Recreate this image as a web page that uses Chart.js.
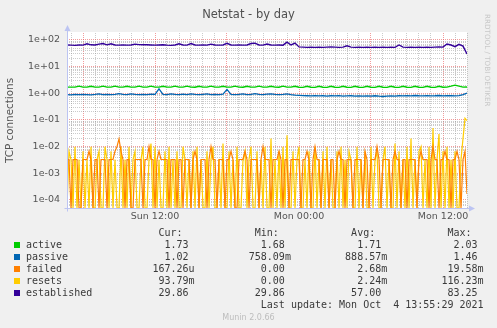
<!DOCTYPE html>
<html>
<head>
<meta charset="utf-8">
<script src="https://cdn.jsdelivr.net/npm/chart.js@4/dist/chart.umd.min.js"></script>
<style>
  html, body { margin: 0; padding: 0; background: #f0f0f0; }
  body { width: 497px; height: 328px; position: relative; overflow: hidden; font-family: "DejaVu Sans", sans-serif; }
  #chart { position: absolute; left: 0; top: 0; }
  .title { position: absolute; left: 0; width: 497px; top: 7px; text-align: center; font-size: 11.5px; color: #505050; }
  .side { position: absolute; left: 483px; top: 14px; writing-mode: vertical-rl; font-size: 7.2px; color: #c8c8c8; }
  #legend { position: absolute; left: 26px; top: 227px; margin: 0; font: 10px/12px "DejaVu Sans Mono", monospace; color: #3a3a3a; }
  .swatch { position: absolute; left: 14px; width: 6px; height: 6px; }
  .munin { position: absolute; left: 0; width: 497px; top: 313px; text-align: center; font-size: 8px; color: #bdbdbd; }
</style>
</head>
<body>
<canvas id="chart" width="497" height="328"></canvas>
<div class="title">Netstat - by day</div>
<div class="side">RRDTOOL / TOBI OETIKER</div>
<pre id="legend"></pre>
<div id="swatches"></div>
<div class="munin">Munin 2.0.66</div>
<script>
"use strict";

// ---- Data (hours after Sun 00:00) ------------------------------------------

const T0 = 4 + 40 / 60;          // left edge of the graph, Sun 04:40
const T1 = 38;                   // right edge, Mon 14:00
const SLOW_STEP = 20 / 60;       // active / passive / established samples
const FAST_STEP = 10 / 60;       // failed / resets samples
const Y_MIN = 5e-5;
const Y_MAX = 183;

const xTickHours = [12, 24, 36];
const xTickLabels = ["Sun 12:00", "Mon 00:00", "Mon 12:00"];

const yTickValues = [1e-4, 1e-3, 1e-2, 1e-1, 1, 10, 100];
const yTickLabels = ["1e-04", "1e-03", "1e-02", "1e-01", "1e+00", "1e+01", "1e+02"];
const yDecades = [1e-5, 1e-4, 1e-3, 1e-2, 1e-1, 1, 10, 100];
const yMinorSteps = [1, 2, 3, 4, 5, 6, 7, 8, 9];

const active = [
  1.70, 1.70, 1.71, 1.85, 1.70, 1.70, 1.84, 1.70, 1.71, 1.85,
  1.70, 1.70, 1.85, 1.70, 1.70, 1.84, 1.70, 1.71, 1.85, 1.70,
  1.70, 1.85, 1.70, 1.70, 1.84, 1.70, 1.71, 1.85, 1.70, 1.70,
  1.85, 1.70, 1.69, 1.84, 1.70, 1.70, 1.85, 1.70, 1.70, 1.84,
  1.70, 1.70, 1.85, 1.70, 1.69, 1.84, 1.70, 1.70, 1.85, 1.70,
  1.70, 1.84, 1.70, 1.69, 1.85, 1.70, 1.70, 1.84, 1.69, 1.68,
  1.84, 1.69, 1.68, 1.84, 1.69, 1.68, 1.84, 1.69, 1.68, 1.84,
  1.69, 1.68, 1.84, 1.69, 1.68, 1.84, 1.69, 1.68, 1.84, 1.69,
  1.68, 1.84, 1.69, 1.68, 1.84, 1.69, 1.68, 1.84, 1.69, 1.68,
  1.84, 1.69, 1.68, 1.84, 1.69, 1.70, 1.85, 2.03, 1.85, 1.72,
  1.73,
];

const passive = [
  0.90, 0.88, 0.91, 0.89, 0.92, 0.90, 0.88, 0.91, 0.95, 0.90,
  0.92, 0.89, 0.91, 0.97, 0.92, 0.90, 0.95, 0.91, 0.89, 0.92,
  0.90, 0.93, 0.91, 1.46, 0.92, 0.90, 0.95, 0.91, 0.89, 0.93,
  0.90, 0.96, 0.91, 0.89, 0.92, 0.95, 0.90, 0.91, 0.89, 0.93,
  1.40, 0.92, 0.90, 0.91, 0.95, 0.90, 0.92, 0.98, 0.91, 0.89,
  0.93, 0.96, 0.91, 0.90, 0.92, 0.95, 0.90, 0.86, 0.84, 0.82,
  0.81, 0.80, 0.82, 0.80, 0.81, 0.79, 0.81, 0.80, 0.82, 0.79,
  0.80, 0.81, 0.79, 0.80, 0.78, 0.80, 0.79, 0.81, 0.78, 0.76,
  0.78, 0.80, 0.79, 0.81, 0.80, 0.82, 0.80, 0.83, 0.81, 0.80,
  0.82, 0.80, 0.81, 0.83, 0.80, 0.82, 0.81, 0.80, 0.82, 0.90,
  1.02,
];

const established = [
  65, 64, 63, 65, 64, 72, 66, 65, 70, 74,
  66, 72, 65, 64, 65, 64, 65, 70, 67, 66,
  66, 65, 64, 65, 66, 64, 63, 65, 72, 65,
  64, 74, 65, 64, 65, 64, 70, 65, 64, 65,
  75, 65, 64, 65, 64, 65, 74, 76, 65, 64,
  71, 65, 64, 65, 64, 83.25, 65, 77, 55, 54,
  53, 54, 53, 54, 53, 54, 55, 54, 53, 54,
  61, 54, 53, 54, 53, 54, 53, 54, 53, 54,
  53, 54, 53, 65, 54, 53, 54, 53, 54, 53,
  54, 53, 54, 55, 54, 71, 65, 56, 69, 59,
  29.86,
];

const failed = [
  .0033, .0033, 0, .0033, .0033, .0033, 0, 0, .0033, .0033,
  .0033, .0067, .0033, 0, .0033, .0033, 0, .0033, .0033, .0033,
  0, .0033, .0033, .0033, .0067, .01, .0196, .0067, .0033, 0,
  .0033, .0033, 0, 0, .0033, .0033, .0033, .0033, 0, .0033,
  .0033, .01, .0033, .0033, 0, .0033, .0067, .0033, .0033, .0033,
  .0033, 0, .0033, .0033, .0033, 0, .0033, .0033, 0, .0033,
  .0033, .0033, 0, .0033, .0067, .0033, 0, .0033, .0033, .0033,
  0, .0033, .01, .0033, .0033, 0, .0033, .0033, .0033, 0,
  .0033, .0033, .0067, .0033, 0, 0, .0033, .0033, .0033, .0067,
  .0033, 0, .0033, .0033, .0033, .0033, 0, .0033, .01, .0033,
  .0033, .0033, 0, .0033, .0033, .0033, .0067, .0033, 0, .0033,
  .0033, 0, .0033, .0033, .0033, .0033, .0033, 0, .0033, .0033,
  .0067, .0033, 0, .0033, .01, .0033, .0033, 0, .0033, .0033,
  .0033, 0, .0033, .0033, 0, .0033, .0067, .0033, .0033, 0,
  .0033, .0033, .0033, 0, .0033, .0033, .0033, .0033, 0, .0067,
  .0033, 0, .0033, .0033, .0033, .01, .0033, 0, .0033, .0033,
  .0033, .0033, 0, .0033, .0067, .0033, .0033, 0, .0033, .0033,
  0, .0033, .0033, .0033, .0033, 0, .0033, .0067, .0033, .0033,
  .0033, 0, .0033, .01, .0033, .0033, 0, .0033, .0033, .0067,
  .0033, .0033, 0, .0033, .0033, .0067, .0033, 0, .0033, .0067,
  .000167,
];

const resets = [
  0, .0067, .0033, 0, .01, 0, .0033, 0, .0067, 0,
  .0033, 0, .01, 0, 0, .0033, .0067, 0, 0, .01,
  .0033, 0, .0067, 0, .0033, 0, 0, .01, 0, .0033,
  0, .01, 0, .0033, .0067, 0, 0, .0033, .01, 0,
  0, .0033, .013, 0, .01, 0, .0033, 0, 0, .0067,
  0, .01, 0, .0033, 0, .0067, 0, 0, .01, .0033,
  0, .0033, 0, .0067, 0, .01, 0, .0033, 0, 0,
  .0067, 0, .0033, .01, 0, 0, .0033, 0, .013, 0,
  0, .0067, 0, .0033, 0, .01, 0, 0, .0033, .0067,
  0, .0033, .01, 0, 0, .0067, 0, .0033, 0, .01,
  0, 0, .02, 0, .0033, 0, .0067, 0, .01, 0,
  .027, 0, 0, .0067, 0, .0033, .01, 0, 0, .0033,
  0, .0067, 0, 0, .01, 0, .0033, 0, .0067, 0,
  .01, 0, .0033, 0, 0, .0067, 0, .01, 0, .0033,
  0, .0067, .0033, 0, 0, .01, 0, .0033, 0, .0067,
  0, 0, .01, 0, .0033, .0067, 0, 0, .0033, .01,
  0, .0033, 0, 0, .013, 0, .0067, 0, .0033, 0,
  .01, 0, .02, 0, .0033, 0, .0067, .01, 0, .0033,
  0, .01, 0, .05, 0, .0033, .03, 0, .0067, 0,
  .01, 0, .0033, 0, .0067, 0, 0, .0033, .02, .1162,
  .0938,
];

// Legend table, as munin prints it
const seriesNames = ["active", "passive", "failed", "resets", "established"];
const curText = ["1.73 ", "1.02 ", "167.26u", "93.79m", "29.86 "];
const minText = ["1.68 ", "758.09m", "0.00 ", "0.00 ", "29.86 "];
const avgText = ["1.71 ", "888.57m", "2.68m", "2.24m", "57.00 "];
const maxText = ["2.03 ", "1.46 ", "19.58m", "116.23m", "83.25 "];
const lastUpdate = "Last update: Mon Oct  4 13:55:29 2021";

// ---- Styles ----------------------------------------------------------------

const COLOURS = ["#00cc00", "#0066b3", "#ff8000", "#ffcc00", "#330099"];
const GRID = "rgba(140,140,140,0.45)";
const MGRID = "rgba(235,90,90,0.6)";
const AXIS = "#bcc4f2";
const TEXT = "#555";

// ---- Legend ----------------------------------------------------------------

const legendLines = ["Cur:".padStart(26) + "Min:".padStart(16) + "Avg:".padStart(16) + "Max:".padStart(16)];
seriesNames.forEach((name, i) => {
  legendLines.push(name.padEnd(20) + curText[i].padStart(8) + minText[i].padStart(16) +
    avgText[i].padStart(16) + maxText[i].padStart(16));
});
legendLines.push(lastUpdate.padStart(76));
document.getElementById("legend").textContent = legendLines.join("\n");

const swatches = document.getElementById("swatches");
COLOURS.forEach((c, i) => {
  const el = document.createElement("div");
  el.className = "swatch";
  el.style.background = c;
  el.style.top = (242 + i * 12) + "px";
  swatches.appendChild(el);
});

// ---- Chart -----------------------------------------------------------------

const xGridHours = [];
for (let h = Math.ceil(T0); h <= T1; h++) xGridHours.push(h);

const yGrid = [];
for (const d of yDecades) {
  for (const m of yMinorSteps) yGrid.push(m * d);
}

// rrdtool draws a zero on a log axis at the floor of the graph
const series = (label, values, step, colour, order, width) => ({
  label,
  data: values.map((y, i) => ({ x: T0 + i * step, y: y > 0 ? y : Y_MIN })),
  borderColor: colour,
  backgroundColor: colour,
  borderWidth: width,
  pointRadius: 0,
  tension: 0,
  order,
});

const plotBackground = {
  id: "plotBackground",
  beforeDraw(chart) {
    const { ctx, chartArea: a } = chart;
    ctx.save();
    ctx.fillStyle = "#ffffff";
    ctx.fillRect(a.left, a.top - 1, a.right - a.left, a.bottom - a.top + 1);
    ctx.restore();
  },
};

const axisArrows = {
  id: "axisArrows",
  afterDraw(chart) {
    const { ctx, chartArea: a } = chart;
    const x = Math.round(a.left) + 0.5;
    const y = Math.round(a.bottom) + 0.5;
    ctx.save();
    ctx.strokeStyle = AXIS;
    ctx.fillStyle = AXIS;
    ctx.lineWidth = 1;
    ctx.beginPath();
    ctx.moveTo(x, y + 3);
    ctx.lineTo(x, a.top - 3);
    ctx.moveTo(x - 3, y);
    ctx.lineTo(a.right + 3, y);
    ctx.stroke();
    ctx.beginPath();
    ctx.moveTo(x - 3, a.top - 2);
    ctx.lineTo(x + 3, a.top - 2);
    ctx.lineTo(x, a.top - 8);
    ctx.fill();
    ctx.beginPath();
    ctx.moveTo(a.right + 2, y - 3);
    ctx.lineTo(a.right + 2, y + 3);
    ctx.lineTo(a.right + 8, y);
    ctx.fill();
    ctx.restore();
  },
};

Chart.defaults.font.family = "'DejaVu Sans', sans-serif";
Chart.defaults.color = TEXT;

new Chart(document.getElementById("chart"), {
  type: "line",
  data: {
    datasets: [
      series("active", active, SLOW_STEP, COLOURS[0], 4, 1.3),
      series("passive", passive, SLOW_STEP, COLOURS[1], 3, 1.3),
      series("failed", failed, FAST_STEP, COLOURS[2], 1, 1.2),
      series("resets", resets, FAST_STEP, COLOURS[3], 2, 1.2),
      series("established", established, SLOW_STEP, COLOURS[4], 0, 1.4),
    ],
  },
  options: {
    responsive: false,
    animation: false,
    devicePixelRatio: 1,
    layout: { padding: { left: 0, top: 33, right: 30, bottom: 100 } },
    plugins: { legend: { display: false }, title: { display: false }, tooltip: { enabled: false } },
    scales: {
      x: {
        type: "linear",
        min: T0,
        max: T1,
        afterBuildTicks: (s) => { s.ticks = xGridHours.map((v) => ({ value: v })); },
        afterFit: (s) => { s.height = 20; },
        ticks: {
          autoSkip: false,
          maxRotation: 0,
          padding: 3,
          font: { size: 9.5 },
          callback: (v) => {
            const k = xTickHours.indexOf(v);
            return k >= 0 ? xTickLabels[k] : "";
          },
        },
        grid: {
          drawTicks: false,
          lineWidth: 1,
          color: (c) => (c.tick && c.tick.value % 6 === 0 ? MGRID : GRID),
        },
        border: { display: false, dash: (c) => (c.tick ? [1, 1] : []) },
      },
      y: {
        type: "logarithmic",
        min: Y_MIN,
        max: Y_MAX,
        afterBuildTicks: (s) => {
          s.ticks = yGrid.filter((v) => v > Y_MIN && v < Y_MAX).map((v) => ({ value: v }));
        },
        afterFit: (s) => { s.width = 67; },
        ticks: {
          autoSkip: false,
          padding: 7,
          font: { size: 9.5 },
          callback: (v) => {
            const k = yTickValues.indexOf(v);
            return k >= 0 ? yTickLabels[k] : "";
          },
        },
        grid: {
          drawTicks: false,
          lineWidth: 1,
          color: (c) => (c.tick && yTickValues.includes(c.tick.value) ? MGRID : GRID),
        },
        border: { display: false, dash: (c) => (c.tick ? [1, 1] : []) },
        title: {
          display: true,
          text: "TCP connections",
          font: { size: 10.4 },
          color: TEXT,
          padding: { top: 4, bottom: 0 },
        },
      },
    },
  },
  plugins: [plotBackground, axisArrows],
});
</script>
</body>
</html>
